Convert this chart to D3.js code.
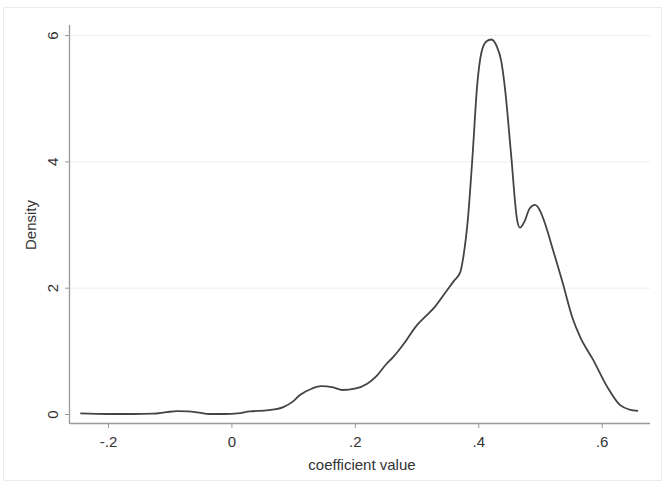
<!DOCTYPE html>
<html>
<head>
<meta charset="utf-8">
<script src="https://cdn.jsdelivr.net/npm/d3@7"></script>
<style>
  html, body { margin: 0; padding: 0; background: #fff; }
  svg text { font-family: "Liberation Sans", Arial, Helvetica, sans-serif; fill: #333; }
</style>
</head>
<body>
<svg id="chart" width="664" height="485"></svg>
<script>
// Data (kernel density of coefficient values)
const coefValues = [-0.245, -0.20, -0.16, -0.127, -0.105, -0.088, -0.07, -0.055, -0.035, -0.01,
  0.01, 0.03, 0.06, 0.084, 0.10, 0.111, 0.13, 0.145, 0.165, 0.18, 0.20, 0.22, 0.235, 0.25, 0.262,
  0.28, 0.30, 0.315, 0.33, 0.345, 0.36, 0.371, 0.375, 0.383, 0.391, 0.398, 0.405, 0.413, 0.421,
  0.43, 0.437, 0.443, 0.453, 0.463, 0.4675, 0.475, 0.483, 0.492, 0.50, 0.508, 0.521, 0.537, 0.552,
  0.565, 0.586, 0.609, 0.630, 0.645, 0.659];
const densityValues = [0.01, 0.0, 0.0, 0.005, 0.03, 0.045, 0.04, 0.025, 0.0, 0.0,
  0.01, 0.04, 0.06, 0.11, 0.2, 0.3, 0.4, 0.44, 0.42, 0.38, 0.4, 0.48, 0.6, 0.78, 0.9,
  1.12, 1.4, 1.55, 1.7, 1.9, 2.1, 2.25, 2.44, 3.07, 4.13, 5.18, 5.72, 5.9, 5.93,
  5.82, 5.6, 5.18, 4.13, 3.07, 2.95, 3.05, 3.25, 3.31, 3.22, 3.02, 2.6, 2.07, 1.54,
  1.22, 0.86, 0.43, 0.14, 0.07, 0.05];
const xTicks = [-0.2, 0, 0.2, 0.4, 0.6];
const xTickLabels = ["-.2", "0", ".2", ".4", ".6"];
const yTicks = [0, 2, 4, 6];
const yTickLabels = ["0", "2", "4", "6"];
const xTitle = "coefficient value";
const yTitle = "Density";

const svg = d3.select("#chart");

// outer frame
svg.append("rect").attr("x", 3.5).attr("y", 7.5).attr("width", 658).attr("height", 473)
  .attr("fill", "#fff").attr("stroke", "#ececec").attr("stroke-width", 1);

const x = d3.scaleLinear().domain([-0.2, 0.6]).range([108, 601.7]);
const y = d3.scaleLinear().domain([0, 6]).range([414, 35.1]);

const axisX0 = 70, axisY0 = 423;

// gridlines
svg.append("g").selectAll("line").data(yTicks.filter(d => d > 0)).join("line")
  .attr("x1", axisX0 + 1).attr("x2", 650)
  .attr("y1", d => y(d) + 0.5).attr("y2", d => y(d) + 0.5)
  .attr("stroke", "#eeeeee").attr("stroke-width", 1);

// x axis
const gx = svg.append("g").attr("transform", `translate(0,${axisY0})`)
  .call(d3.axisBottom(x).tickValues(xTicks).tickFormat((d, i) => xTickLabels[i]).tickSize(5).tickSizeOuter(0));
gx.select(".domain").remove();
gx.append("line").attr("x1", axisX0).attr("x2", 650).attr("y1", 0.5).attr("y2", 0.5)
  .attr("stroke", "#999").attr("stroke-width", 1.3);
gx.selectAll(".tick line").attr("stroke", "#999");
gx.selectAll(".tick text").attr("font-size", 15).attr("dy", "1.05em").attr("fill", "#333");

// y axis
const gy = svg.append("g").attr("transform", `translate(${axisX0},0)`)
  .call(d3.axisLeft(y).tickValues(yTicks).tickFormat((d, i) => yTickLabels[i]).tickSize(5).tickSizeOuter(0));
gy.select(".domain").remove();
gy.append("line").attr("x1", -0.5).attr("x2", -0.5).attr("y1", 25).attr("y2", axisY0 + 1)
  .attr("stroke", "#999").attr("stroke-width", 1.3);
gy.selectAll(".tick line").attr("stroke", "#999");
gy.selectAll(".tick text").remove();
gy.selectAll(".tick").append("text")
  .attr("transform", "translate(-17,0) rotate(-90)")
  .attr("text-anchor", "middle").attr("dy", "0.36em")
  .attr("font-size", 15).attr("fill", "#333")
  .text((d, i) => yTickLabels[i]);

// axis titles
svg.append("text").attr("x", 362).attr("y", 470).attr("text-anchor", "middle")
  .attr("font-size", 15).text(xTitle);
svg.append("text").attr("transform", "translate(31,225) rotate(-90)")
  .attr("text-anchor", "middle").attr("dy", "0.36em").attr("font-size", 15).text(yTitle);

// density curve
const pts = coefValues.map((v, i) => [v, densityValues[i]]);
const line = d3.line().x(d => x(d[0])).y(d => y(d[1])).curve(d3.curveMonotoneX);
svg.append("path").datum(pts).attr("d", line)
  .attr("fill", "none").attr("stroke", "#444").attr("stroke-width", 1.8);
</script>
</body>
</html>
